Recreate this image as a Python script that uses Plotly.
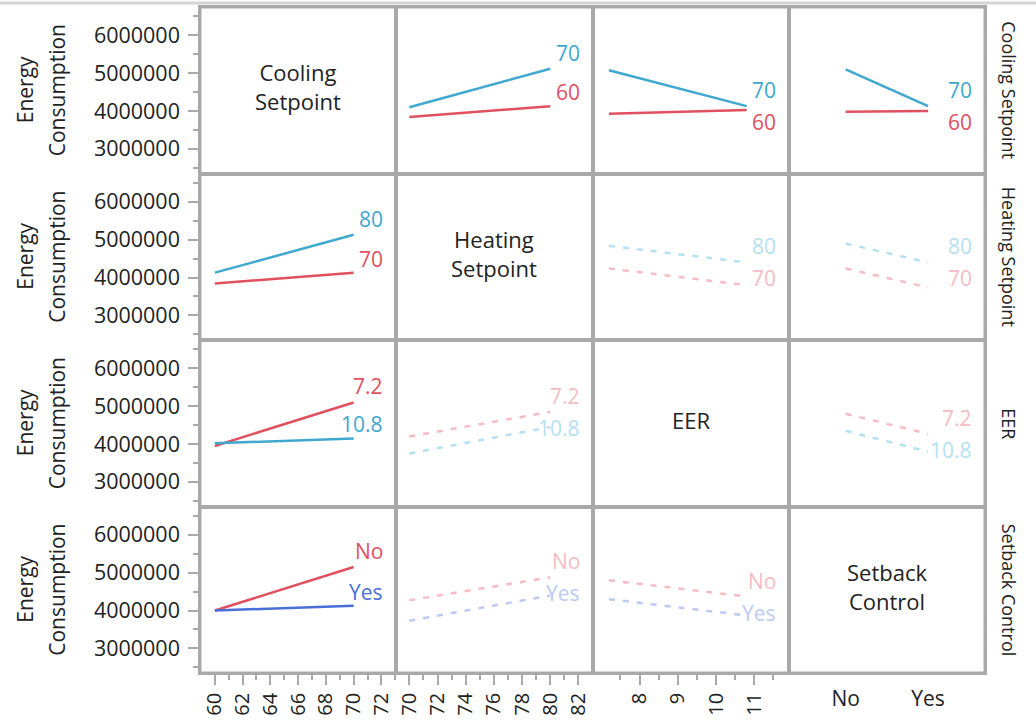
import plotly.graph_objects as go
from plotly.subplots import make_subplots

# ---------------- data ----------------
factors = ["Cooling Setpoint", "Heating Setpoint", "EER", "Setback Control"]
diag_labels = ["Cooling<br>Setpoint", "Heating<br>Setpoint", "EER", "Setback<br>Control"]
level_labels = [["60", "70"], ["70", "80"], ["7.2", "10.8"], ["No", "Yes"]]
x_levels = [[60, 70], [70, 80], [7.2, 10.8], ["No", "Yes"]]
x_tickvals = [[60, 62, 64, 66, 68, 70, 72], [70, 72, 74, 76, 78, 80, 82], [8, 9, 10, 11], ["No", "Yes"]]
x_minorvals = [[61, 63, 65, 67, 69, 71, 73], [71, 73, 75, 77, 79, 81], [7.5, 8.5, 9.5, 10.5, 11.5], []]
y_tickvals = [3000000, 4000000, 5000000, 6000000]
y_minorvals = [2500000, 3500000, 4500000, 5500000, 6500000]

# Row 1: traces by Cooling Setpoint (60, 70)
cool60_heat = [3.84e6, 4.13e6]
cool70_heat = [4.10e6, 5.12e6]
cool60_eer = [3.93e6, 4.03e6]
cool70_eer = [5.08e6, 4.13e6]
cool60_setback = [3.98e6, 4.00e6]
cool70_setback = [5.10e6, 4.13e6]
# Row 2: traces by Heating Setpoint (70, 80)
heat70_cool = [3.84e6, 4.13e6]
heat80_cool = [4.13e6, 5.13e6]
heat70_eer = [4.24e6, 3.80e6]
heat80_eer = [4.84e6, 4.40e6]
heat70_setback = [4.24e6, 3.74e6]
heat80_setback = [4.90e6, 4.40e6]
# Row 3: traces by EER (7.2, 10.8)
eer72_cool = [3.95e6, 5.10e6]
eer108_cool = [4.02e6, 4.15e6]
eer72_heat = [4.20e6, 4.85e6]
eer108_heat = [3.75e6, 4.45e6]
eer72_setback = [4.80e6, 4.27e6]
eer108_setback = [4.35e6, 3.80e6]
# Row 4: traces by Setback Control (No, Yes)
setNo_cool = [4.00e6, 5.15e6]
setYes_cool = [4.00e6, 4.13e6]
setNo_heat = [4.27e6, 4.88e6]
setYes_heat = [3.73e6, 4.40e6]
setNo_eer = [4.80e6, 4.37e6]
setYes_eer = [4.30e6, 3.87e6]

profiles = {
    (0, 1): (cool60_heat, cool70_heat), (0, 2): (cool60_eer, cool70_eer), (0, 3): (cool60_setback, cool70_setback),
    (1, 0): (heat70_cool, heat80_cool), (1, 2): (heat70_eer, heat80_eer), (1, 3): (heat70_setback, heat80_setback),
    (2, 0): (eer72_cool, eer108_cool), (2, 1): (eer72_heat, eer108_heat), (2, 3): (eer72_setback, eer108_setback),
    (3, 0): (setNo_cool, setYes_cool), (3, 1): (setNo_heat, setYes_heat), (3, 2): (setNo_eer, setYes_eer),
}

# ---------------- style ----------------
W, H = 1036, 721
ML, MR, MT, MB = 200, 51, 5, 48
FONT = "Open Sans"
RED, RED_F = "#e0505f", "#f5bcc5"
TEAL, TEAL_F = "#3fa8ce", "#b5e0f1"
ROYAL, ROYAL_F = "#4a6ed8", "#bccaf3"
GRID = "#a9a9a9"
TXT = "#222222"
y_range = [2.35e6, 6.75e6]
x_ranges = [[58.93, 73.07], [69.07, 83.0], [6.77, 11.9], [-0.69, 1.69]]

fig = make_subplots(rows=4, cols=4, horizontal_spacing=0, vertical_spacing=0)
panel_h = (H - MT - MB) / 4
px_per_unit = panel_h / (y_range[1] - y_range[0])

annotations = []
for r in range(4):
    for c in range(4):
        idx = r * 4 + c + 1
        sfx = "" if idx == 1 else str(idx)
        if r == c:
            fig.add_trace(go.Scatter(x=x_levels[c], y=[None, None], mode="lines", showlegend=False,
                                     hoverinfo="skip"), row=r + 1, col=c + 1)
            annotations.append(dict(text=diag_labels[r], xref=f"x{sfx} domain", yref=f"y{sfx} domain",
                                    x=0.5, y=0.52, xanchor="center", yanchor="middle", showarrow=False,
                                    font=dict(family=FONT, size=22, color=TXT)))
            continue
        lo, hi = profiles[(r, c)]
        faded = r > 0 and c > 0
        cols = [RED, ROYAL if r == 3 else TEAL]
        if faded:
            cols = [RED_F, ROYAL_F if r == 3 else TEAL_F]
        dash = "6px,8px" if faded else "solid"
        for k, ys in enumerate((lo, hi)):
            fig.add_trace(go.Scatter(x=x_levels[c], y=ys, mode="lines",
                                     line=dict(color=cols[k], width=2.5, dash=dash),
                                     showlegend=False, hoverinfo="skip"), row=r + 1, col=c + 1)
        # labels at right end of each profile
        ends = [lo[1], hi[1]]
        upper = 0 if ends[0] >= ends[1] else 1
        lower = 1 - upper
        up_shift = 16
        up_px = -ends[upper] * px_per_unit - up_shift
        lo_end_px = -ends[lower] * px_per_unit
        lo_px = max(lo_end_px - 14, up_px + 32)
        shifts = {upper: up_shift, lower: -(lo_px - lo_end_px)}
        for k in range(2):
            annotations.append(dict(text=level_labels[r][k], xref=f"x{sfx} domain", yref=f"y{sfx}",
                                    x=1, y=ends[k], xanchor="right", yanchor="middle",
                                    xshift=-11, yshift=shifts[k], showarrow=False,
                                    font=dict(family=FONT, size=21, color=cols[k])))

for r in range(4):
    for c in range(4):
        xa = dict(range=x_ranges[c], showline=True, mirror=True, linecolor=GRID, linewidth=1.5,
                  showgrid=False, zeroline=False, showticklabels=False, ticks="")
        if c == 3:
            xa.update(type="category", categoryorder="array", categoryarray=x_levels[3])
        if r == 3:
            if c < 3:
                xa.update(showticklabels=True, ticks="outside", ticklen=10, tickwidth=2, tickcolor=GRID,
                          tickmode="array", tickvals=x_tickvals[c], tickangle=-90,
                          tickfont=dict(family=FONT, size=20, color=TXT),
                          minor=dict(ticks="outside", ticklen=5, tickwidth=2, tickcolor=GRID,
                                     tickmode="array", tickvals=x_minorvals[c]))
            else:
                xa.update(showticklabels=True, ticks="", tickangle=0, ticklabelstandoff=6,
                          tickfont=dict(family=FONT, size=21, color=TXT))
        ya = dict(range=y_range, showline=True, mirror=True, linecolor=GRID, linewidth=1.5,
                  showgrid=False, zeroline=False, showticklabels=False, ticks="")
        if c == 0:
            ya.update(showticklabels=True, ticks="outside", ticklen=10, tickwidth=2, tickcolor=GRID,
                      tickmode="array", tickvals=y_tickvals, tickformat="d", ticklabelstandoff=4,
                      tickfont=dict(family=FONT, size=21.5, color=TXT),
                      minor=dict(ticks="outside", ticklen=5, tickwidth=2, tickcolor=GRID,
                                 tickmode="array", tickvals=y_minorvals))
        fig.update_xaxes(xa, row=r + 1, col=c + 1)
        fig.update_yaxes(ya, row=r + 1, col=c + 1)

plot_w = W - ML - MR
for r in range(4):
    yc = 1 - (r + 0.5) / 4
    annotations.append(dict(text="Energy", xref="paper", yref="paper", x=(25 - ML) / plot_w, y=yc,
                            xanchor="center", yanchor="middle",
                            textangle=-90, showarrow=False, font=dict(family=FONT, size=21, color=TXT)))
    annotations.append(dict(text="Consumption", xref="paper", yref="paper", x=(57 - ML) / plot_w, y=yc,
                            xanchor="center", yanchor="middle",
                            textangle=-90, showarrow=False, font=dict(family=FONT, size=21, color=TXT)))
    annotations.append(dict(text=factors[r], xref="paper", yref="paper", x=(1009 - ML) / plot_w, y=yc,
                            xanchor="center", yanchor="middle",
                            textangle=90, showarrow=False, font=dict(family=FONT, size=18, color=TXT)))

fig.update_layout(
    width=W, height=H, margin=dict(l=ML, r=MR, t=MT, b=MB),
    paper_bgcolor="white", plot_bgcolor="white",
    annotations=annotations,
    shapes=[
        dict(type="line", xref="paper", yref="paper", x0=-ML / plot_w, x1=1 + MR / plot_w,
             y0=1 + 4 / (H - MT - MB), y1=1 + 4 / (H - MT - MB),
             line=dict(color="#d4d4d4", width=3)),
        dict(type="rect", xref="paper", yref="paper", x0=0, x1=1, y0=0, y1=1,
             line=dict(color=GRID, width=3), layer="above"),
    ],
)

fig.write_html("out.html", config={"displayModeBar": False},
               post_script="document.body.style.margin='0';")
